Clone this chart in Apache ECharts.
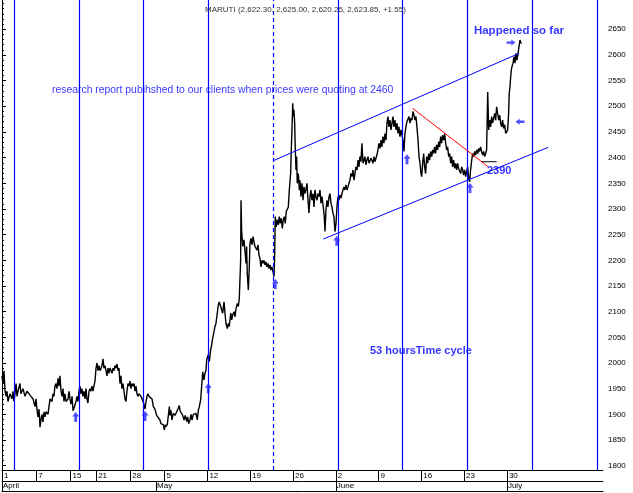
<!DOCTYPE html>
<html><head><meta charset="utf-8">
<script src="https://cdn.jsdelivr.net/npm/echarts@6/dist/echarts.min.js"></script>
<style>html,body{margin:0;padding:0;background:#fff}#c{width:633px;height:493px}</style>
</head><body><div id="c"></div>
<script>
// ---- data (x in hourly-bar index from 1 April, y in price) ----
const titleText = 'MARUTI (2,622.30, 2,625.00, 2,620.25, 2,623.85, +1.55)';
const hours = [0,0.8,1.6,2.5,3.3,4.1,4.9,6.5,8.2,9.0,9.8,10.6,11.5,12.3,13.1,14.7,15.5,17.2,18.8,20.4,22.1,23.7,25.4,27.0,27.8,28.6,29.4,30.3,31.1,31.9,32.7,33.5,34.4,35.2,36.0,37.6,39.3,40.9,41.7,42.5,43.3,44.2,45.0,45.8,46.6,47.4,48.3,49.1,49.9,50.7,51.5,52.3,54.0,54.8,55.6,56.4,57.3,58.1,58.9,60.5,61.3,62.2,63.0,63.8,64.6,65.4,66.2,67.1,67.9,68.7,69.5,70.3,71.2,72.0,72.8,73.6,74.4,75.2,76.1,76.9,77.7,78.5,79.3,80.2,81.0,81.8,82.6,83.4,84.2,85.1,85.9,86.7,87.5,88.3,89.2,90.0,90.8,91.6,92.4,93.2,94.1,94.9,95.7,96.5,97.3,98.1,99.0,99.8,100.6,101.4,102.2,103.1,103.9,104.7,105.5,106.3,107.1,108.0,108.8,109.6,110.4,111.2,112.1,113.7,115.3,116.1,117.0,117.8,118.6,119.4,120.2,121.0,122.7,123.8,125.1,126.5,127.9,129.2,130.0,131.9,132.8,133.6,134.1,135.2,136.0,136.9,137.4,138.2,139.0,140.1,141.5,142.3,144.2,145.0,145.8,147.0,147.8,148.9,149.9,151.1,151.9,152.7,153.8,154.6,155.4,156.5,157.9,158.7,159.7,160.6,161.4,162.5,163.3,164.2,165.2,166.0,166.9,167.4,168.7,169.6,170.7,171.5,172.3,173.4,174.2,175.0,176.1,176.9,177.7,178.9,179.7,180.5,181.6,182.4,183.2,184.3,185.1,185.9,187.1,187.9,188.7,189.8,190.6,191.4,192.5,193.3,194.1,194.7,195.2,195.5,196.0,196.9,197.9,198.7,199.6,200.1,200.6,201.5,202.3,202.8,203.7,204.5,205.3,206.1,206.9,207.7,208.6,209.4,210.2,211.0,211.8,212.7,213.5,214.3,215.1,215.9,216.7,217.6,218.4,219.2,220.0,220.8,221.7,222.5,223.0,223.5,224.3,225.2,226.0,226.8,227.6,228.4,229.3,230.1,230.9,231.7,232.5,233.3,234.2,235.0,236.1,236.6,237.2,237.8,238.3,238.8,239.4,239.9,240.5,241.0,241.5,242.4,243.2,243.7,244.5,245.4,246.2,247.0,247.8,248.6,249.5,250.3,251.1,251.9,252.7,253.5,254.4,255.2,256.0,256.8,257.6,258.5,259.3,260.1,260.9,261.7,262.8,263.6,264.2,265.0,265.8,266.6,267.5,268.3,269.1,269.9,270.7,271.5,272.4,273.2,274.0,274.8,275.6,276.4,277.3,278.1,278.9,279.7,280.5,281.4,282.2,283.0,283.8,284.6,285.4,286.3,287.1,287.9,288.7,289.5,290.4,291.2,292.0,292.8,293.6,294.4,295.3,296.1,296.9,297.7,298.5,299.4,300.2,301.0,301.8,302.6,303.4,304.3,305.1,305.9,306.7,307.5,308.3,309.2,310.0,310.8,311.6,312.4,313.3,314.1,314.9,315.7,316.5,317.3,318.2,319.0,319.8,320.6,321.4,322.3,323.1,323.9,324.7,325.5,326.3,327.2,328.0,328.8,329.6,330.4,331.2,332.1,332.9,333.7,334.5,335.3,336.2,337.0,337.8,338.6,339.4,340.3,341.1,341.9,342.7,343.3,344.1,344.9,345.7,346.5,347.4,348.2,349.0,349.8,350.6,351.5,352.3,353.1,353.9,354.7,355.5,356.4,357.2,358.0,358.8,359.6,360.4,361.3,362.1,362.9,363.7,364.5,365.4,366.2,367.0,367.8,368.6,369.4,370.3,371.1,371.9,372.7,373.5,374.4,375.2,376.0,376.8,377.6,378.4,379.3,380.1,380.9,381.7,382.5,383.3,384.2,385.0,385.8,386.6,387.4,388.3,389.1,389.9,390.7,391.5,392.3,393.2,394.0,394.8,395.6,396.4,397.3,398.1,398.9,399.7,400.5,401.3,402.2,403.0,403.8,404.6,405.4,406.3,407.1,407.9,408.7,409.5,410.3,411.2,412.0,412.8,413.6,414.4,414.9,415.5,416.1,416.6,417.1,418.0,418.8,419.6,420.4,421.2,422.1,422.9,423.7,424.5,425.0];
const prices = [1975,1960,1985,1945,1935,1945,1925,1940,1930,1945,1925,1940,1960,1935,1945,1960,1940,1950,1935,1945,1940,1935,1930,1915,1930,1910,1895,1910,1875,1890,1900,1885,1905,1895,1905,1900,1930,1925,1940,1935,1955,1960,1950,1970,1955,1975,1945,1935,1950,1925,1940,1925,1930,1945,1930,1920,1935,1907,1912,1925,1935,1925,1945,1955,1940,1950,1935,1945,1930,1950,1930,1922,1945,1950,1945,1955,1945,1955,1965,1990,2000,1985,1995,1985,1990,1995,2008,1990,1995,1985,1975,1990,1980,1990,1985,1980,1990,1985,1995,1990,1998,1985,1990,1960,1975,1950,1960,1945,1930,1925,1945,1960,1955,1965,1950,1960,1955,1960,1945,1955,1940,1935,1940,1935,1935,1920,1910,1925,1935,1940,1935,1935,1930,1915,1910,1898,1895,1889,1882,1880,1870,1880,1876,1880,1882,1915,1898,1908,1889,1902,1898,1902,1912,1917,1906,1908,1898,1889,1898,1886,1895,1882,1889,1900,1889,1900,1898,1902,1889,1908,1915,1928,1954,1983,1967,1980,1986,2006,2016,2003,2026,2035,2048,2061,2071,2077,2097,2113,2119,2110,2113,2097,2119,2097,2077,2067,2077,2071,2097,2084,2094,2100,2090,2106,2116,2110,2126,2129,2200,2317,2259,2227,2240,2220,2194,2227,2175,2142,2187,2233,2243,2230,2246,2237,2227,2230,2220,2230,2210,2204,2187,2200,2194,2200,2191,2197,2187,2194,2184,2191,2181,2187,2178,2168,2207,2285,2265,2279,2269,2285,2272,2282,2262,2279,2285,2272,2295,2292,2304,2337,2369,2415,2454,2506,2480,2493,2467,2415,2376,2402,2350,2369,2337,2356,2324,2350,2317,2343,2330,2337,2350,2317,2292,2324,2337,2317,2330,2304,2337,2324,2317,2330,2324,2337,2311,2324,2304,2285,2256,2298,2317,2304,2324,2330,2311,2304,2292,2285,2256,2272,2304,2324,2317,2327,2321,2330,2337,2343,2337,2347,2337,2343,2350,2356,2369,2363,2376,2356,2369,2382,2376,2395,2382,2402,2392,2428,2389,2395,2402,2386,2395,2402,2389,2392,2399,2395,2389,2402,2392,2399,2405,2415,2428,2418,2434,2421,2441,2428,2447,2434,2467,2480,2460,2473,2454,2467,2480,2460,2473,2454,2467,2447,2460,2441,2454,2444,2434,2412,2447,2460,2470,2467,2480,2467,2477,2473,2490,2483,2473,2480,2460,2434,2402,2389,2369,2363,2389,2408,2382,2369,2402,2389,2408,2395,2412,2402,2415,2408,2421,2408,2425,2415,2431,2421,2441,2428,2444,2434,2447,2428,2415,2421,2402,2408,2389,2402,2382,2395,2379,2389,2376,2389,2379,2382,2369,2382,2376,2366,2376,2363,2373,2382,2360,2353,2376,2395,2408,2402,2412,2405,2415,2408,2418,2412,2421,2412,2405,2412,2402,2408,2415,2528,2454,2473,2460,2480,2467,2477,2486,2473,2499,2486,2473,2483,2467,2460,2473,2457,2464,2447,2444,2454,2486,2525,2538,2558,2571,2577,2584,2597,2584,2603,2590,2603,2616,2629,2623,2624];

const yLabels = [1800,1850,1900,1950,2000,2050,2100,2150,2200,2250,2300,2350,2400,2450,2500,2550,2600,2650];
const dayTickHours = [0,28,56,77,105,133,168,203,238,273,308,343,378,413];
const dayTickLabels = ['1','7','15','21','28','5','12','19','26','2','9','16','23','30'];
const monthTickHours = [0,126,273,413];
const monthLabels = ['April','May','June','July'];
const cycleHours = [9.8,62.8,115.8,168.8,221.8,274.8,327.8,380.8,433.8,486.8];
const dashedCycleHour = 221.8;
const upperChannel = [[221.9,2394],[422.9,2603]];
const lowerChannel = [[262.8,2241.5],[446.8,2420]];
const redTrend = [[335.9,2496],[397.7,2382]];
const supportLine = [[392.3,2392],[404.6,2392]];
const upArrows = [[60.3,1895],[117.0,1897],[168.7,1951],[223.5,2154],[273.8,2238],[331.3,2397],[382.8,2341]];
const rightArrows = [[416.3,2624]];
const leftArrows = [[423.7,2470]];
const notes = [
  {text:'research report pubihshed to our clients when prices were quoting at 2460', at:[40.9,2531.8], size:10.4, weight:'normal'},
  {text:'Happened so far', at:[386.0,2646.7], size:11.5, weight:'bold'},
  {text:'53 hoursTime cycle', at:[301.0,2023.4], size:11, weight:'bold'},
  {text:'2390', at:[396.7,2374.0], size:11, weight:'bold'}
];

// ---- layout ----
const X_MAX = 491.6, Y_MIN = 1791.6, Y_MAX = 2707.0;
const FONT = 'Liberation Sans, Arial, sans-serif';
const BLUE = '#0000ff';
const minorTicks = [];
for (let v = 1800; v <= 2700; v += 10) minorTicks.push(v);

const arrowPath = 'path://M5 0 L10 5.5 L7 5.5 L7 12 L3 12 L3 5.5 L0 5.5 Z';
const priceData = hours.map((h, i) => [h, prices[i]]);

function baseX(extra) {
  return Object.assign({type:'value', min:0, max:X_MAX, position:'bottom', splitLine:{show:false},
    axisLine:{show:false}, axisTick:{show:false}, axisLabel:{show:false}}, extra);
}
function baseY(extra) {
  return Object.assign({type:'value', min:Y_MIN, max:Y_MAX, splitLine:{show:false},
    axisLine:{show:false}, axisTick:{show:false}, axisLabel:{show:false}}, extra);
}

const option = {
  animation: false,
  backgroundColor: '#ffffff',
  title: {text: titleText, left: 200, top: 1,
    textStyle:{fontSize:8, fontWeight:'normal', color:'#333', fontFamily:FONT}},
  grid: {left: 2, top: 0, width: 601, height: 470},
  xAxis: [
    baseX({axisLine:{show:true, lineStyle:{color:'#000', width:1}}}),
    baseX({offset:0,
      axisTick:{show:true, customValues:dayTickHours, length:11, lineStyle:{color:'#000'}},
      axisLabel:{show:true, customValues:dayTickHours, margin:2, align:'left', padding:[0,0,0,2],
        fontSize:8, color:'#000', fontFamily:FONT,
        formatter: v => { const i = dayTickHours.indexOf(Math.round(v)); return i >= 0 ? dayTickLabels[i] : ''; }}}),
    baseX({offset:11, axisLine:{show:true, lineStyle:{color:'#000'}},
      axisTick:{show:true, customValues:monthTickHours, length:10, lineStyle:{color:'#000'}},
      axisLabel:{show:true, customValues:monthTickHours, margin:1, align:'left', padding:[0,0,0,1],
        fontSize:8, color:'#000', fontFamily:FONT,
        formatter: v => { const i = monthTickHours.indexOf(Math.round(v)); return i >= 0 ? monthLabels[i] : ''; }}}),
    baseX({offset:21, axisLine:{show:true, lineStyle:{color:'#000'}}})
  ],
  yAxis: [
    baseY({position:'right', axisLine:{show:true, lineStyle:{color:'#000'}},
      axisTick:{show:true, customValues:minorTicks, length:2, lineStyle:{color:'#000'}},
      axisLabel:{show:true, customValues:yLabels, margin:5, fontSize:8, color:'#000', fontFamily:FONT,
        formatter: v => String(Math.round(v))}}),
    baseY({position:'right', axisTick:{show:true, customValues:yLabels, length:4, lineStyle:{color:'#000'}}}),
    baseY({position:'left', axisLine:{show:true, lineStyle:{color:'#000'}}})
  ],
  series: [
    {type:'line', name:'price', data:priceData, showSymbol:false, symbol:'none',
      lineStyle:{color:'#000', width:1.4}, z:3,
      markLine:{silent:true, symbol:['none','none'], label:{show:false}, z:4,
        lineStyle:{color:BLUE, width:1.2, type:'solid'},
        data: cycleHours.map(h => ({xAxis:h, lineStyle:{color:BLUE, width:1.2, type: h === dashedCycleHour ? [4,3] : 'solid'}}))}},
    {type:'line', data:upperChannel, symbol:'none', lineStyle:{color:BLUE, width:1}, z:4},
    {type:'line', data:lowerChannel, symbol:'none', lineStyle:{color:BLUE, width:1}, z:4},
    {type:'line', data:redTrend, symbol:'none', lineStyle:{color:'#ff0000', width:1}, z:4},
    {type:'line', data:supportLine, symbol:'none', lineStyle:{color:'#000', width:1}, z:4},
    {type:'scatter', data:upArrows, symbol:arrowPath, symbolSize:[7,10], itemStyle:{color:'#2222ff'}, z:5},
    {type:'scatter', data:rightArrows, symbol:arrowPath, symbolSize:[6,9], symbolRotate:-90, itemStyle:{color:'#2222ff'}, z:5},
    {type:'scatter', data:leftArrows, symbol:arrowPath, symbolSize:[6,9], symbolRotate:90, itemStyle:{color:'#2222ff'}, z:5},
    {type:'scatter', symbolSize:0, z:2,
      data: notes.map(n => ({value:n.at, label:{show:true, formatter:n.text, position:[0,0], align:'left', verticalAlign:'middle',
        color:BLUE, fontSize:n.size, fontWeight:n.weight, fontFamily:FONT}})),
      label:{show:true}}
  ]
};
const chart = echarts.init(document.getElementById('c'), null, {renderer:'canvas'});
chart.setOption(option);
</script></body></html>
